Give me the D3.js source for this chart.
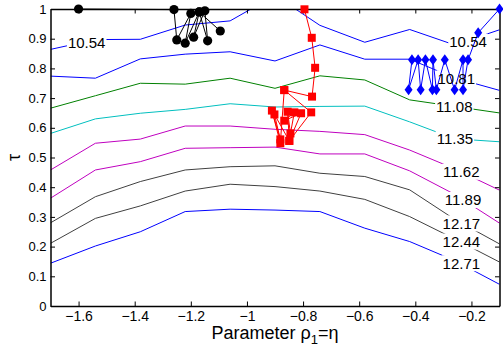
<!DOCTYPE html>
<html>
<head>
<meta charset="utf-8">
<script src="https://cdn.jsdelivr.net/npm/d3@7"></script>
<style>
  body { margin: 0; background: #fff; }
  svg { font-family: "Liberation Sans", Arial, sans-serif; }
</style>
</head>
<body>
<svg id="chart"></svg>
<script>
// contour grid (x positions of the polyline vertices)
const xGrid = [-1.7, -1.54, -1.38, -1.22, -1.06, -0.9, -0.74, -0.58, -0.42, -0.26, -0.1];
const levels = ["10.54", "10.81", "11.08", "11.35", "11.62", "11.89", "12.17", "12.44", "12.71"];

// tau of each contour at xGrid
const c1054 = [0.864, 0.897, 0.898, 0.946, 0.960, 1.046, 0.945, 0.888, 0.931, 0.879, 0.930];
const c1081 = [0.774, 0.767, 0.832, 0.848, 0.856, 0.825, 0.879, 0.831, 0.831, 0.768, 0.726];
const c1108 = [0.666, 0.708, 0.750, 0.747, 0.767, 0.733, 0.775, 0.761, 0.694, 0.672, 0.650];
const c1135 = [0.581, 0.630, 0.649, 0.662, 0.681, 0.670, 0.672, 0.673, 0.620, 0.563, 0.553];
const c1162 = [0.458, 0.548, 0.562, 0.606, 0.606, 0.595, 0.588, 0.577, 0.525, 0.462, 0.390];
const c1189 = [0.363, 0.458, 0.486, 0.531, 0.533, 0.535, 0.512, 0.512, 0.455, 0.376, 0.279];
const c1217 = [0.280, 0.368, 0.419, 0.458, 0.469, 0.472, 0.447, 0.436, 0.391, 0.292, 0.209];
const c1244 = [0.211, 0.295, 0.337, 0.387, 0.410, 0.402, 0.387, 0.359, 0.301, 0.226, 0.148];
const c1271 = [0.144, 0.202, 0.250, 0.318, 0.326, 0.323, 0.318, 0.262, 0.217, 0.153, 0.073];
const contours = [c1054, c1081, c1108, c1135, c1162, c1189, c1217, c1244, c1271];
const contourColors = ["#0000ff", "#0000ff", "#008000", "#00bfbf", "#bf00bf", "#bf00bf", "#404040", "#404040", "#0000ff"];

// contour labels: level index, x, tau
const labelLevel = [0, 0, 1, 2, 3, 4, 5, 6, 7, 8];
const labelX = [-1.571, -0.212, -0.254, -0.261, -0.259, -0.236, -0.230, -0.236, -0.236, -0.236];
const labelY = [0.886, 0.890, 0.767, 0.671, 0.565, 0.452, 0.357, 0.278, 0.217, 0.144];

// trajectories
const blackX = [-1.60, -1.26, -1.25, -1.20, -1.22, -1.17, -1.19, -1.15, -1.14, -1.17, -1.095];
const blackY = [1.000, 0.998, 0.896, 0.985, 0.885, 0.990, 0.905, 0.994, 0.893, 0.990, 0.926];

const redX = [-0.795, -0.769, -0.757, -0.768, -0.867, -0.881, -0.911, -0.881, -0.902, -0.849, -0.855, -0.845, -0.831, -0.867, -0.807, -0.849, -0.771, -0.867];
const redY = [0.999, 0.903, 0.802, 0.705, 0.727, 0.548, 0.658, 0.561, 0.645, 0.556, 0.654, 0.581, 0.652, 0.624, 0.649, 0.556, 0.652, 0.727];

const blueX = [-0.1, -0.176, -0.212, -0.230, -0.230, -0.260, -0.295, -0.325, -0.337, -0.339, -0.364, -0.381, -0.390, -0.424, -0.412];
const blueY = [1.000, 0.920, 0.829, 0.728, 0.829, 0.728, 0.829, 0.728, 0.829, 0.728, 0.829, 0.728, 0.829, 0.728, 0.829];

const xTicks = [-1.6, -1.4, -1.2, -1, -0.8, -0.6, -0.4, -0.2];
const yTicks = [0, 0.1, 0.2, 0.3, 0.4, 0.5, 0.6, 0.7, 0.8, 0.9, 1];

const width = 503;
const height = 354;
const margin = { top: 9, right: 3.5, bottom: 48, left: 50.5 };

const svg = d3.select("#chart").attr("width", width).attr("height", height);
const defs = svg.append("defs");

const x = d3.scaleLinear().domain([-1.7, -0.1]).range([margin.left, width - margin.right]);
const y = d3.scaleLinear().domain([0, 1]).range([height - margin.bottom, margin.top]);

defs.append("clipPath").attr("id", "plot")
  .append("rect")
  .attr("x", x(-1.7)).attr("y", y(1))
  .attr("width", x(-0.1) - x(-1.7)).attr("height", y(0) - y(1));

const line = d3.line().x(d => x(d[0])).y(d => y(d[1]));

// Contours
const contourG = svg.append("g").attr("clip-path", "url(#plot)");
contours.forEach((vals, i) => {
  contourG.append("path")
    .datum(xGrid.map((xv, j) => [xv, vals[j]]))
    .attr("fill", "none")
    .attr("stroke", contourColors[i])
    .attr("stroke-width", 1)
    .attr("mask", `url(#gap${i})`)
    .attr("d", line);
});

// Axes (box with inward ticks)
const fmt = d3.format("~g");
function styleAxis(g, size) {
  g.attr("font-family", null).attr("font-size", size);
  g.select(".domain").attr("stroke", "#000").attr("stroke-width", 1.5);
  g.selectAll(".tick line").attr("stroke", "#000");
  g.selectAll(".tick text").attr("fill", "#000");
}
svg.append("g")
  .attr("transform", `translate(0,${y(0)})`)
  .call(d3.axisBottom(x).tickValues(xTicks).tickFormat(fmt).tickSizeInner(-4.5).tickSizeOuter(0).tickPadding(5))
  .call(styleAxis, 14);
svg.append("g")
  .attr("transform", `translate(0,${y(1)})`)
  .call(d3.axisTop(x).tickValues(xTicks).tickFormat(() => "").tickSizeInner(-4.5).tickSizeOuter(0))
  .call(styleAxis, 13);
svg.append("g")
  .attr("transform", `translate(${x(-1.7)},0)`)
  .call(d3.axisLeft(y).tickValues(yTicks).tickFormat(fmt).tickSizeInner(-4.5).tickSizeOuter(0).tickPadding(4))
  .call(styleAxis, 13);
svg.append("g")
  .attr("transform", `translate(${x(-0.1)},0)`)
  .call(d3.axisRight(y).tickValues(yTicks).tickFormat(() => "").tickSizeInner(-4.5).tickSizeOuter(0))
  .call(styleAxis, 13);

// Trajectories
function drawTrack(xs, ys, color, shape) {
  const pts = xs.map((v, i) => [v, ys[i]]);
  const g = svg.append("g");
  g.append("path").datum(pts)
    .attr("fill", "none").attr("stroke", color).attr("stroke-width", 1)
    .attr("d", line);
  g.selectAll("path.mk").data(pts).enter().append("path")
    .attr("class", "mk")
    .attr("fill", color)
    .attr("transform", d => `translate(${x(d[0])},${y(d[1])})`)
    .attr("d", shape);
}
drawTrack(blackX, blackY, "#000", "M-4.6,0A4.6,4.6 0 1,0 4.6,0A4.6,4.6 0 1,0 -4.6,0Z");
drawTrack(redX, redY, "#ff0000", "M-4,-4H4V4H-4Z");
drawTrack(blueX, blueY, "#0000ff", "M0,-5.5L4,0L0,5.5L-4,0Z");

// Contour labels
const labelG = svg.append("g").attr("font-size", 15).attr("fill", "#000");
const boxes = labelLevel.map(() => null);
labelLevel.forEach((li, k) => {
  const t = labelG.append("text")
    .attr("x", x(labelX[k])).attr("y", y(labelY[k]))
    .attr("dy", "0.36em")
    .attr("text-anchor", "middle")
    .text(levels[li]);
  const w = t.node().getComputedTextLength();
  boxes[k] = { li, cx: x(labelX[k]), cy: y(labelY[k]), w };
});

// gap in each contour under its label
contours.forEach((vals, i) => {
  const m = defs.append("mask").attr("id", `gap${i}`)
    .attr("maskUnits", "userSpaceOnUse")
    .attr("x", 0).attr("y", 0).attr("width", width).attr("height", height);
  m.append("rect").attr("width", width).attr("height", height).attr("fill", "#fff");
  boxes.filter(b => b.li === i).forEach(b => {
    m.append("rect")
      .attr("x", b.cx - b.w / 2 - 1).attr("y", b.cy - 8)
      .attr("width", b.w + 2).attr("height", 16)
      .attr("fill", "#000");
  });
});

// Axis titles
const xt = svg.append("text")
  .attr("x", (x(-1.7) + x(-0.1)) / 2).attr("y", 339)
  .attr("text-anchor", "middle").attr("font-size", 18).attr("fill", "#000");
xt.append("tspan").text("Parameter ρ");
xt.append("tspan").attr("font-size", 13).attr("dy", 5).text("1");
xt.append("tspan").attr("dy", -5).text("=η");

svg.append("text")
  .attr("transform", `translate(20,${(y(0) + y(1)) / 2})rotate(-90)`)
  .attr("text-anchor", "middle").attr("font-size", 18).attr("fill", "#000")
  .text("τ");
</script>
</body>
</html>
